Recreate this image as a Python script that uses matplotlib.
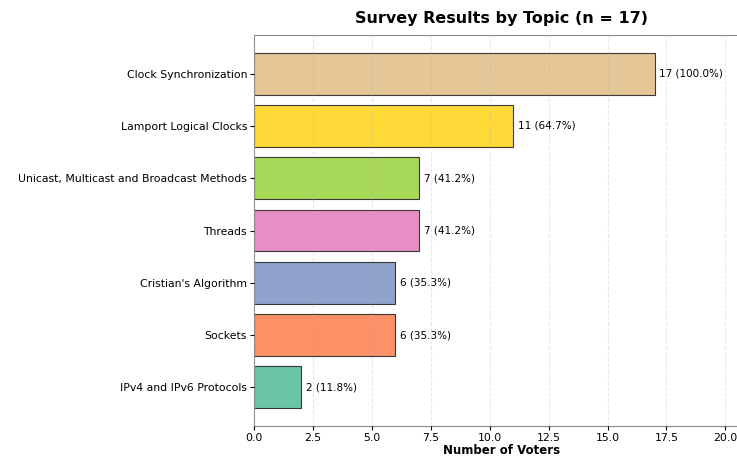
import matplotlib.pyplot as plt

topics = ["IPv4 and IPv6 Protocols", "Sockets", "Cristian's Algorithm", "Threads",
          "Unicast, Multicast and Broadcast Methods", "Lamport Logical Clocks",
          "Clock Synchronization"]
votes = [2, 6, 6, 7, 7, 11, 17]
n = 17

colors = plt.get_cmap("Set2").colors[:len(topics)]

fig = plt.figure(figsize=(7.37, 4.59), dpi=100)
# axes run a little past the right edge of the canvas, like the reference
ax = fig.add_axes([0.3446, 0.0719, 0.6716, 0.8518])

bars = ax.barh(topics, votes, height=0.8, color=colors, edgecolor="#333333",
               linewidth=0.8, alpha=0.97, zorder=2)
for b, v in zip(bars, votes):
    ax.text(b.get_width() + 0.2, b.get_y() + b.get_height() / 2,
            f"{v} ({v / n * 100:.1f}%)", va="center", ha="left", fontsize=7.5)

ax.set_xlim(0, 21.0)
ax.set_xticks([0, 2.5, 5, 7.5, 10, 12.5, 15, 17.5, 20])
ax.set_xlabel("Number of Voters", fontsize=8.5, fontweight="bold", labelpad=1)
ax.set_title("Survey Results by Topic (n = 17)", fontsize=11.5, fontweight="bold", pad=9)
ax.tick_params(axis="both", labelsize=7.8, pad=2, length=3)
ax.grid(axis="x", linestyle="--", alpha=0.3, zorder=3)
ax.set_axisbelow(False)
for s in ["top", "left", "bottom", "right"]:
    ax.spines[s].set_color("#888888")

fig.savefig("out.png", dpi=100)
